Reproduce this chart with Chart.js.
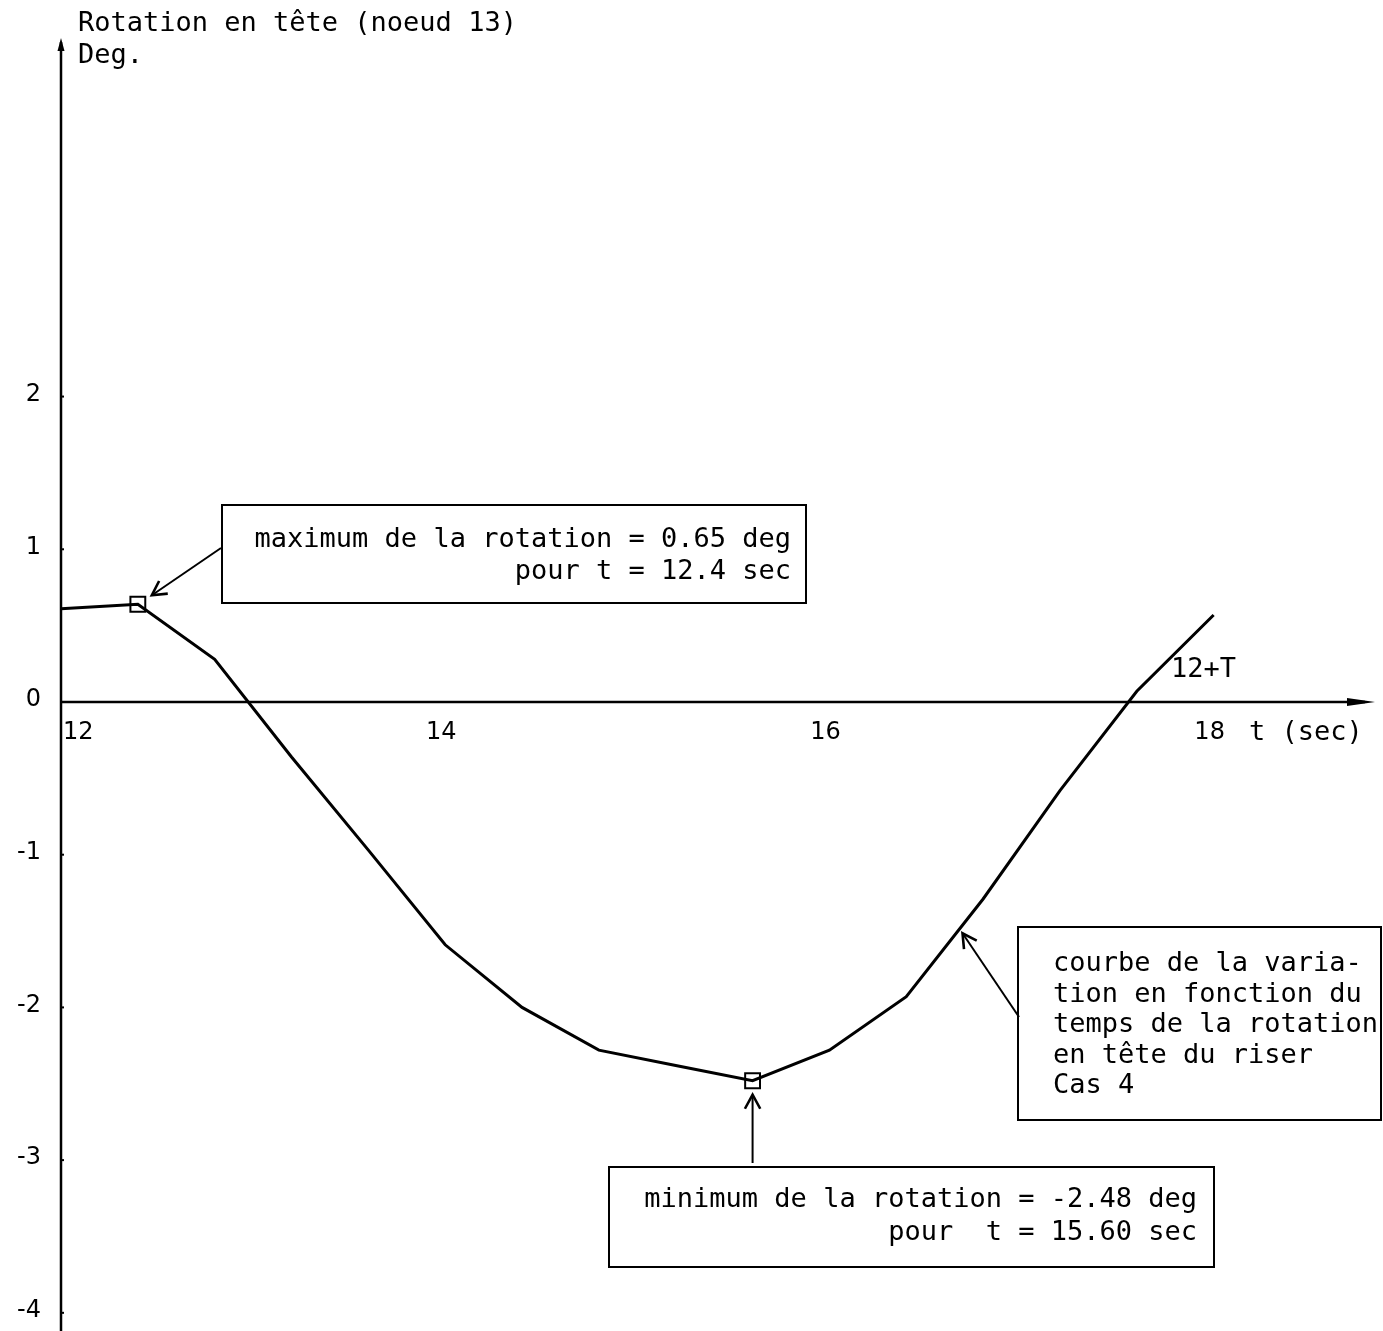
<!DOCTYPE html>
<html><head><meta charset="utf-8">
<script src="https://cdn.jsdelivr.net/npm/chart.js@4.4.1/dist/chart.umd.min.js"></script>
<style>html,body{margin:0;padding:0;background:#fff;} #wrap{width:1383px;height:1331px;}</style>
</head><body><div id="wrap"><canvas id="c" width="1383" height="1331"></canvas></div>
<script>
// ---- data ----
const times = [12.0, 12.4, 12.8, 13.2, 13.6, 14.0, 14.4, 14.8, 15.2, 15.6, 16.0, 16.4, 16.8, 17.2, 17.6, 18.0];
const rotation = [0.61, 0.64, 0.28, -0.36, -0.97, -1.59, -2.00, -2.28, -2.38, -2.48, -2.28, -1.93, -1.29, -0.58, 0.07, 0.57];
const xTicks = [12, 14, 16, 18];
const xTickLabels = ['12', '14', '16', '18'];
const yTicks = [2, 1, 0, -1, -2, -3, -4];
const yTickLabels = ['2', '1', '0', '-1', '-2', '-3', '-4'];
const maxIndex = 1;
const minIndex = 9;
const maxText = ['maximum de la rotation = 0.65 deg', 'pour t = 12.4 sec'];
const minText = ['minimum de la rotation = -2.48 deg', 'pour  t = 15.60 sec'];
const curveText = ['courbe de la varia-', 'tion en fonction du', 'temps de la rotation', 'en tête du riser', 'Cas 4'];
const yTitle = ['Rotation en tête (noeud 13)', 'Deg.'];
const xTitle = 't (sec)';
const periodLabel = '12+T';

const MONO = '27px "DejaVu Sans Mono", "Liberation Mono", monospace';
const NUM = '24px "DejaVu Sans", "Liberation Sans", Arial, sans-serif';

function openArrow(ctx, x1, y1, x2, y2, head) {
  ctx.beginPath(); ctx.moveTo(x1, y1); ctx.lineTo(x2, y2); ctx.stroke();
  const a = Math.atan2(y2 - y1, x2 - x1);
  ctx.save(); ctx.lineWidth = 2.6;
  ctx.beginPath();
  ctx.moveTo(x2 - head * Math.cos(a - 0.5), y2 - head * Math.sin(a - 0.5));
  ctx.lineTo(x2, y2);
  ctx.lineTo(x2 - head * Math.cos(a + 0.5), y2 - head * Math.sin(a + 0.5));
  ctx.stroke();
  ctx.restore();
}

const axesPlugin = {
  id: 'axesPlugin',
  beforeDatasetsDraw(chart) {
    const ctx = chart.ctx, xs = chart.scales.x, ys = chart.scales.y, ca = chart.chartArea;
    const x0 = xs.getPixelForValue(12), y0 = ys.getPixelForValue(0);
    ctx.save();
    ctx.strokeStyle = '#000'; ctx.fillStyle = '#000'; ctx.lineWidth = 2.5;
    // y axis
    ctx.beginPath(); ctx.moveTo(x0, ca.top + 4); ctx.lineTo(x0, ca.bottom); ctx.stroke();
    ctx.beginPath(); ctx.moveTo(x0, ca.top); ctx.lineTo(x0 - 3.5, ca.top + 13); ctx.lineTo(x0 + 3.5, ca.top + 13); ctx.closePath(); ctx.fill();
    // x axis
    ctx.beginPath(); ctx.moveTo(x0, y0); ctx.lineTo(ca.right - 10, y0); ctx.stroke();
    ctx.beginPath(); ctx.moveTo(ca.right, y0); ctx.lineTo(ca.right - 28, y0 - 4); ctx.lineTo(ca.right - 28, y0 + 4); ctx.closePath(); ctx.fill();
    // y ticks
    ctx.lineWidth = 2;
    ctx.font = NUM; ctx.textAlign = 'right'; ctx.textBaseline = 'middle';
    yTicks.forEach((v, i) => {
      const py = ys.getPixelForValue(v);
      ctx.beginPath(); ctx.moveTo(x0, py); ctx.lineTo(x0 + 3, py); ctx.stroke();
      ctx.fillText(yTickLabels[i], 41, py - 2);
    });
    // x tick labels
    xTicks.forEach((v, i) => {
      const px = xs.getPixelForValue(v);
      if (i === 0) { ctx.textAlign = 'left'; ctx.fillText(xTickLabels[i], x0 + 2, y0 + 31); }
      else { ctx.textAlign = 'center'; ctx.fillText(xTickLabels[i], px - 4, y0 + 31); }
    });
    // titles
    ctx.font = MONO; ctx.textAlign = 'left';
    ctx.fillText(yTitle[0], 78, 24);
    ctx.fillText(yTitle[1], 78, 56);
    ctx.fillText(xTitle, 1249, y0 + 31);
    ctx.fillText(periodLabel, 1171, y0 - 32);
    ctx.restore();
  },
  afterDatasetsDraw(chart) {
    const ctx = chart.ctx, xs = chart.scales.x, ys = chart.scales.y;
    ctx.save();
    ctx.strokeStyle = '#000'; ctx.fillStyle = '#000'; ctx.lineWidth = 2;
    ctx.font = MONO; ctx.textBaseline = 'middle';
    // max box
    ctx.strokeRect(222, 505, 584, 98);
    ctx.textAlign = 'right';
    ctx.fillText(maxText[0], 791, 540);
    ctx.fillText(maxText[1], 791, 572);
    const mx = xs.getPixelForValue(times[maxIndex]), my = ys.getPixelForValue(rotation[maxIndex]);
    openArrow(ctx, 221, 548, mx + 14, my - 9, 16);
    // min box
    ctx.strokeRect(609, 1167, 605, 100);
    ctx.fillText(minText[0], 1197, 1200);
    ctx.fillText(minText[1], 1197, 1233);
    const nx = xs.getPixelForValue(times[minIndex]), ny = ys.getPixelForValue(rotation[minIndex]);
    openArrow(ctx, nx, 1163, nx, ny + 14, 16);
    // curve description box
    ctx.strokeRect(1018, 927, 363, 193);
    ctx.textAlign = 'left';
    curveText.forEach((s, i) => ctx.fillText(s, 1053, 964 + i * 30.5));
    const f = 0.68;
    const tx = times[11] + f * (times[12] - times[11]);
    const tv = rotation[11] + f * (rotation[12] - rotation[11]);
    openArrow(ctx, 1019, 1017, xs.getPixelForValue(tx) + 4, ys.getPixelForValue(tv) + 3, 16);
    ctx.restore();
  }
};

const radii = times.map((t, i) => (i === maxIndex || i === minIndex) ? 10.5 : 0);

new Chart(document.getElementById('c'), {
  type: 'scatter',
  data: {
    datasets: [{
      data: times.map((t, i) => ({ x: t, y: rotation[i] })),
      showLine: true,
      borderColor: '#000',
      borderWidth: 3,
      tension: 0,
      pointStyle: 'rect',
      pointRadius: radii,
      pointHoverRadius: radii,
      pointBorderColor: '#000',
      pointBorderWidth: 2,
      pointBackgroundColor: 'rgba(0,0,0,0)',
      clip: false
    }]
  },
  options: {
    responsive: false,
    animation: false,
    events: [],
    layout: { padding: { left: 61, right: 8, top: 38, bottom: 0 } },
    plugins: { legend: { display: false }, tooltip: { enabled: false } },
    scales: {
      x: { type: 'linear', min: 12, max: 18.84, display: false },
      y: { type: 'linear', min: -4.119, max: 4.348, display: false }
    }
  },
  plugins: [axesPlugin]
});
</script>
</body></html>
